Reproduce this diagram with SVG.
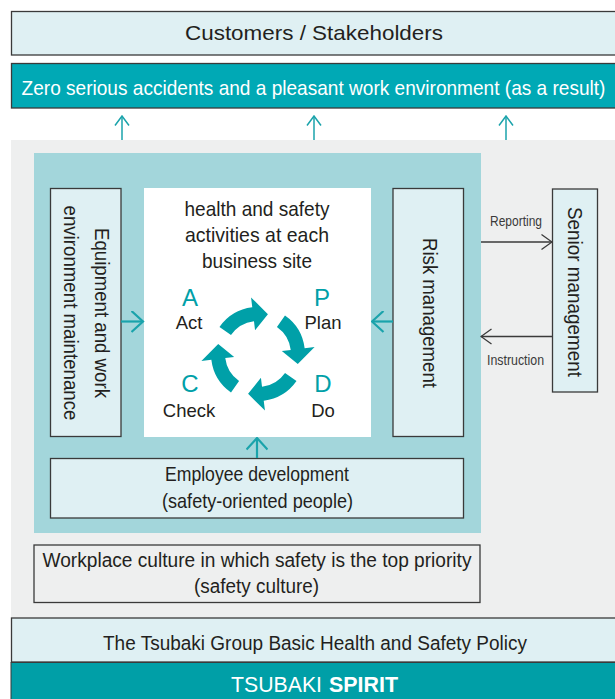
<svg xmlns="http://www.w3.org/2000/svg" xmlns:xlink="http://www.w3.org/1999/xlink" width="615" height="699" viewBox="0 0 615 699">
<style>
  text { font-family: "Liberation Sans", Arial, sans-serif; fill: #231f20; }
  .box { stroke: #3a3a3a; stroke-width: 1.3; }
  .light { fill: #dff0f3; }
  .w { fill: #ffffff; }
  .t20 { font-size: 20px; }
  .t21 { font-size: 21px; }
  .sm { font-size: 15px; fill: #3a3a3a; }
  .big { font-size: 24px; fill: #00a0a8; }
  .pd { font-size: 18.5px; }
  .tealline { stroke: #1aa3ab; fill: none; }
  .grayline { stroke: #3a3a3a; fill: none; stroke-width: 1.3; }
</style>
<defs>
  <marker id="mTealBig" markerUnits="userSpaceOnUse" viewBox="0 0 14 22" refX="12.5" refY="11" markerWidth="14" markerHeight="22" orient="auto">
    <path d="M1,0.5 L12.5,11 L1,21.5" fill="none" stroke="#1aa3ab" stroke-width="2.2"/>
  </marker>
  <marker id="mTealSmall" markerUnits="userSpaceOnUse" viewBox="0 0 11 16" refX="10" refY="8" markerWidth="11" markerHeight="16" orient="auto">
    <path d="M0.5,1 L10,8 L0.5,15" fill="none" stroke="#1aa3ab" stroke-width="1.5"/>
  </marker>
  <marker id="mGray" markerUnits="userSpaceOnUse" viewBox="0 0 12 18" refX="11" refY="9" markerWidth="12" markerHeight="18" orient="auto">
    <path d="M0.5,1.5 L11,9 L0.5,16.5" fill="none" stroke="#3a3a3a" stroke-width="1.3"/>
  </marker>
  <path id="pdArrow" fill="#00a0a8" d="M -38.5,-27.0 A 47 47 0 0 1 -5.73,-46.65 L -6.95,-56.6 L 9.92,-39.78 L -2.93,-23.82 L -4.02,-32.75 A 33 33 0 0 0 -27.03,-18.93 Z"/>
</defs>

<rect x="0" y="0" width="615" height="699" fill="#ffffff"/>

<!-- background areas -->
<rect x="11" y="140" width="610" height="478" fill="#eeefef"/>
<rect x="34" y="153" width="447" height="380" fill="#a3d6db"/>

<g id="customers">
  <rect class="box light" x="11.5" y="11.5" width="620" height="43.5"/>
  <text class="t21" x="314" y="40" text-anchor="middle" textLength="258" lengthAdjust="spacingAndGlyphs">Customers / Stakeholders</text>
</g>

<g id="result">
  <rect class="box" x="11.5" y="63.5" width="620" height="44.5" fill="#00a9b5"/>
  <text transform="translate(313.5,95) scale(0.954,1)" font-size="20" x="0" y="0" text-anchor="middle" style="fill:#ffffff">Zero serious accidents and a pleasant work environment (as a result)</text>
</g>

<g id="equipment">
  <rect class="box light" x="50.5" y="188.5" width="70.5" height="248"/>
  <text class="t20" transform="translate(95,313) rotate(90)" text-anchor="middle" textLength="170" lengthAdjust="spacingAndGlyphs">Equipment and work</text>
  <text class="t20" transform="translate(64,313) rotate(90)" text-anchor="middle" textLength="215" lengthAdjust="spacingAndGlyphs">environment maintenance</text>
</g>

<g id="site">
  <rect class="w" x="144" y="188" width="227" height="249"/>
  <text class="t21" x="257" y="216" text-anchor="middle" textLength="145" lengthAdjust="spacingAndGlyphs">health and safety</text>
  <text class="t21" x="257" y="242" text-anchor="middle" textLength="144" lengthAdjust="spacingAndGlyphs">activities at each</text>
  <text class="t21" x="257" y="268" text-anchor="middle" textLength="110" lengthAdjust="spacingAndGlyphs">business site</text>
  <g id="pdca">
    <use xlink:href="#pdArrow" href="#pdArrow" transform="translate(258,354)"/>
    <use xlink:href="#pdArrow" href="#pdArrow" transform="translate(258,354) rotate(90)"/>
    <use xlink:href="#pdArrow" href="#pdArrow" transform="translate(258,354) rotate(180)"/>
    <use xlink:href="#pdArrow" href="#pdArrow" transform="translate(258,354) rotate(270)"/>
  </g>
  <text class="big" x="190" y="306" text-anchor="middle">A</text>
  <text class="pd" x="189" y="329" text-anchor="middle">Act</text>
  <text class="big" x="322" y="306" text-anchor="middle">P</text>
  <text class="pd" x="323" y="329" text-anchor="middle">Plan</text>
  <text class="big" x="190" y="392" text-anchor="middle">C</text>
  <text class="pd" x="189" y="417" text-anchor="middle">Check</text>
  <text class="big" x="323" y="392" text-anchor="middle">D</text>
  <text class="pd" x="323" y="417" text-anchor="middle">Do</text>
</g>

<g id="risk">
  <rect class="box light" x="393" y="188.5" width="70.5" height="248"/>
  <text class="t20" transform="translate(423,313) rotate(90)" text-anchor="middle" textLength="150" lengthAdjust="spacingAndGlyphs">Risk management</text>
</g>

<g id="senior">
  <rect class="box light" x="552.5" y="189" width="45" height="203"/>
  <text class="t20" transform="translate(568,292) rotate(90)" text-anchor="middle" textLength="170" lengthAdjust="spacingAndGlyphs">Senior management</text>
</g>

<g id="employee">
  <rect class="box light" x="50.5" y="458.5" width="413" height="59.5"/>
  <text class="t21" x="257" y="481" text-anchor="middle" textLength="184" lengthAdjust="spacingAndGlyphs">Employee development</text>
  <text class="t21" x="257.5" y="508" text-anchor="middle" textLength="191" lengthAdjust="spacingAndGlyphs">(safety-oriented people)</text>
</g>

<g id="culture">
  <rect class="box" x="34" y="545" width="446" height="57.5" fill="#eeefef"/>
  <text class="t20" x="257" y="567" text-anchor="middle" textLength="429" lengthAdjust="spacingAndGlyphs">Workplace culture in which safety is the top priority</text>
  <text class="t20" x="256.5" y="593" text-anchor="middle" textLength="125" lengthAdjust="spacingAndGlyphs">(safety culture)</text>
</g>

<g id="policy">
  <rect class="box light" x="11.5" y="618" width="620" height="44"/>
  <text class="t20" x="315" y="650" text-anchor="middle" textLength="424" lengthAdjust="spacingAndGlyphs">The Tsubaki Group Basic Health and Safety Policy</text>
</g>

<g id="spirit">
  <rect x="11" y="662.5" width="610" height="40" fill="#009fa7" stroke="#3a3a3a" stroke-width="1"/>
  <text x="231" y="692" font-size="21.5" textLength="91" lengthAdjust="spacingAndGlyphs" style="fill:#ffffff">TSUBAKI</text>
  <text x="329" y="692" font-size="21.5" font-weight="bold" textLength="69" lengthAdjust="spacingAndGlyphs" style="fill:#ffffff">SPIRIT</text>
</g>

<g id="connectors">
  <path class="tealline" stroke-width="1.5" d="M122,140 V116" marker-end="url(#mTealSmall)"/>
  <path class="tealline" stroke-width="1.5" d="M314,140 V116" marker-end="url(#mTealSmall)"/>
  <path class="tealline" stroke-width="1.5" d="M506,140 V116" marker-end="url(#mTealSmall)"/>
  <path class="tealline" stroke-width="2.2" d="M121,321.5 H143" marker-end="url(#mTealBig)"/>
  <path class="tealline" stroke-width="2.2" d="M393,321.5 H372" marker-end="url(#mTealBig)"/>
  <path class="tealline" stroke-width="2.2" d="M257,458 V438" marker-end="url(#mTealBig)"/>
  <path class="grayline" d="M481,242 H552" marker-end="url(#mGray)"/>
  <path class="grayline" d="M552,336.5 H481" marker-end="url(#mGray)"/>
  <text class="sm" x="516" y="226" text-anchor="middle" textLength="52" lengthAdjust="spacingAndGlyphs">Reporting</text>
  <text class="sm" x="515.5" y="365" text-anchor="middle" textLength="57" lengthAdjust="spacingAndGlyphs">Instruction</text>
</g>
</svg>
